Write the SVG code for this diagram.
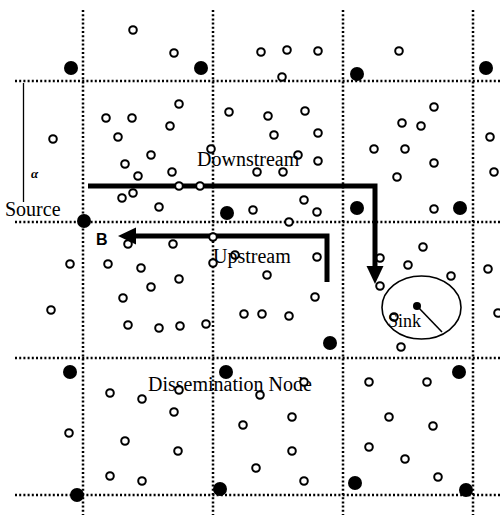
<svg xmlns="http://www.w3.org/2000/svg" width="500" height="515" viewBox="0 0 500 515">
<defs>
<style>
.grid{stroke:#000;stroke-width:2.5;stroke-dasharray:2 2.2;fill:none}
.n{fill:#fff;stroke:#000;stroke-width:2}
.f{fill:#000}
.arr{fill:none;stroke:#000;stroke-width:5}
.t{font-family:"Liberation Serif",serif;font-size:20px;fill:#000}
</style>
<marker id="head" markerUnits="userSpaceOnUse" markerWidth="18" markerHeight="18" refX="0" refY="8" orient="auto" viewBox="0 0 17 16">
<path d="M0,0 L17,8 L0,16 z" fill="#000"/>
</marker>
</defs>
<rect width="500" height="515" fill="#fff"/>
<g id="grid">
<line class="grid" x1="83" y1="10" x2="83" y2="515"/>
<line class="grid" x1="213" y1="10" x2="213" y2="515"/>
<line class="grid" x1="343" y1="10" x2="343" y2="515"/>
<line class="grid" x1="473" y1="10" x2="473" y2="515"/>
<line class="grid" x1="15" y1="81" x2="500" y2="81"/>
<line class="grid" x1="15" y1="222" x2="500" y2="222"/>
<line class="grid" x1="15" y1="358" x2="500" y2="358"/>
<line class="grid" x1="15" y1="495" x2="500" y2="495"/>
</g>
<g id="alpha-dim">
<line x1="23.5" y1="83" x2="23.5" y2="202" stroke="#000" stroke-width="1.3"/>
<text x="31" y="178" font-family="Liberation Serif,serif" font-size="13" font-style="italic" font-weight="bold" fill="#000">α</text>
</g>
<g id="sensors">
<circle class="n" cx="133" cy="30" r="3.8"/><circle class="n" cx="174" cy="53" r="3.8"/><circle class="n" cx="261" cy="52" r="3.8"/><circle class="n" cx="287" cy="50" r="3.8"/><circle class="n" cx="318" cy="51" r="3.8"/><circle class="n" cx="399" cy="51" r="3.8"/><circle class="n" cx="282" cy="77" r="3.8"/>
<circle class="n" cx="179" cy="104" r="3.8"/><circle class="n" cx="229" cy="112" r="3.8"/><circle class="n" cx="106" cy="118" r="3.8"/><circle class="n" cx="132" cy="118" r="3.8"/><circle class="n" cx="170" cy="126" r="3.8"/><circle class="n" cx="53" cy="139" r="3.8"/><circle class="n" cx="118" cy="137" r="3.8"/><circle class="n" cx="211" cy="149" r="3.8"/><circle class="n" cx="151" cy="155" r="3.8"/><circle class="n" cx="125" cy="164" r="3.8"/><circle class="n" cx="172" cy="172" r="3.8"/><circle class="n" cx="138" cy="176" r="3.8"/>
<circle class="n" cx="434" cy="107" r="3.8"/><circle class="n" cx="305" cy="111" r="3.8"/><circle class="n" cx="268" cy="116" r="3.8"/><circle class="n" cx="402" cy="123" r="3.8"/><circle class="n" cx="421" cy="126" r="3.8"/><circle class="n" cx="274" cy="135" r="3.8"/><circle class="n" cx="318" cy="133" r="3.8"/><circle class="n" cx="490" cy="137" r="3.8"/><circle class="n" cx="374" cy="149" r="3.8"/><circle class="n" cx="405" cy="149" r="3.8"/><circle class="n" cx="298" cy="155" r="3.8"/><circle class="n" cx="318" cy="161" r="3.8"/><circle class="n" cx="434" cy="163" r="3.8"/><circle class="n" cx="257" cy="172" r="3.8"/><circle class="n" cx="283" cy="172" r="3.8"/><circle class="n" cx="397" cy="177" r="3.8"/><circle class="n" cx="494" cy="172" r="3.8"/>
<circle class="n" cx="133" cy="193" r="3.8"/><circle class="n" cx="122" cy="198" r="3.8"/><circle class="n" cx="159" cy="207" r="3.8"/><circle class="n" cx="304" cy="200" r="3.8"/><circle class="n" cx="253" cy="210" r="3.8"/><circle class="n" cx="317" cy="212" r="3.8"/><circle class="n" cx="434" cy="209" r="3.8"/><circle class="n" cx="289" cy="222" r="3.8"/>
<circle class="n" cx="128" cy="244" r="3.8"/><circle class="n" cx="173" cy="244" r="3.8"/><circle class="n" cx="235" cy="255" r="3.8"/><circle class="n" cx="70" cy="264" r="3.8"/><circle class="n" cx="108" cy="264" r="3.8"/><circle class="n" cx="141" cy="268" r="3.8"/><circle class="n" cx="179" cy="279" r="3.8"/><circle class="n" cx="151" cy="287" r="3.8"/><circle class="n" cx="123" cy="298" r="3.8"/><circle class="n" cx="51" cy="310" r="3.8"/><circle class="n" cx="128" cy="325" r="3.8"/><circle class="n" cx="159" cy="328" r="3.8"/><circle class="n" cx="180" cy="326" r="3.8"/><circle class="n" cx="206" cy="324" r="3.8"/><circle class="n" cx="244" cy="314" r="3.8"/>
<circle class="n" cx="423" cy="247" r="3.8"/><circle class="n" cx="317" cy="257" r="3.8"/><circle class="n" cx="380" cy="258" r="3.8"/><circle class="n" cx="408" cy="265" r="3.8"/><circle class="n" cx="488" cy="269" r="3.8"/><circle class="n" cx="451" cy="276" r="3.8"/><circle class="n" cx="267" cy="275" r="3.8"/><circle class="n" cx="380" cy="286" r="3.8"/><circle class="n" cx="315" cy="297" r="3.8"/><circle class="n" cx="262" cy="314" r="3.8"/><circle class="n" cx="289" cy="316" r="3.8"/><circle class="n" cx="498" cy="313" r="3.8"/><circle class="n" cx="401" cy="347" r="3.8"/>
<circle class="n" cx="110" cy="393" r="3.8"/><circle class="n" cx="142" cy="399" r="3.8"/><circle class="n" cx="174" cy="412" r="3.8"/><circle class="n" cx="243" cy="425" r="3.8"/><circle class="n" cx="69" cy="433" r="3.8"/><circle class="n" cx="125" cy="441" r="3.8"/><circle class="n" cx="178" cy="451" r="3.8"/><circle class="n" cx="110" cy="476" r="3.8"/><circle class="n" cx="142" cy="481" r="3.8"/>
<circle class="n" cx="260" cy="395" r="3.8"/><circle class="n" cx="369" cy="382" r="3.8"/><circle class="n" cx="427" cy="382" r="3.8"/><circle class="n" cx="292" cy="417" r="3.8"/><circle class="n" cx="389" cy="417" r="3.8"/><circle class="n" cx="433" cy="426" r="3.8"/><circle class="n" cx="292" cy="451" r="3.8"/><circle class="n" cx="369" cy="447" r="3.8"/><circle class="n" cx="405" cy="459" r="3.8"/><circle class="n" cx="256" cy="468" r="3.8"/><circle class="n" cx="304" cy="481" r="3.8"/><circle class="n" cx="438" cy="477" r="3.8"/>
</g>
<g id="dissemination-nodes">
<circle class="f" cx="71" cy="68" r="7"/><circle class="f" cx="201" cy="68" r="7"/><circle class="f" cx="357" cy="74" r="7"/><circle class="f" cx="486" cy="68" r="7"/>
<circle class="f" cx="227" cy="213" r="7"/><circle class="f" cx="357" cy="208" r="7"/><circle class="f" cx="460" cy="208" r="7"/>
<circle class="f" cx="330" cy="343" r="7"/>
<circle class="f" cx="70" cy="372" r="7"/><circle class="f" cx="226" cy="372" r="7"/><circle class="f" cx="459" cy="372" r="7"/>
<circle class="f" cx="77" cy="495" r="7"/><circle class="f" cx="220" cy="489" r="7"/><circle class="f" cx="355" cy="483" r="7"/><circle class="f" cx="466" cy="490" r="7"/>
</g>
<g id="source">
<circle class="f" cx="84" cy="221" r="7"/>
<text class="t" x="5" y="216">Source</text>
</g>
<g id="sink">
<ellipse cx="421.5" cy="307.5" rx="39.5" ry="31.5" fill="none" stroke="#000" stroke-width="1.6"/>
<line x1="417" y1="306" x2="442" y2="332" stroke="#000" stroke-width="1.6"/>
<circle class="f" cx="417" cy="306" r="4"/>
<circle class="n" cx="394" cy="317" r="3.8"/>
<text class="t" x="388" y="327" style="font-size:18px">Sink</text>
</g>
<g id="connectors">
<path class="arr" d="M88,186 H375 V266" marker-end="url(#head)"/>
<path class="arr" d="M327,282 V236 H136" marker-end="url(#head)"/>
</g>
<g id="labels">
<circle class="n" cx="179" cy="186" r="3.8"/><circle class="n" cx="200" cy="186" r="3.8"/>
<circle class="n" cx="213" cy="237" r="3.8"/><circle class="n" cx="213" cy="263" r="3.8"/>
<text class="t" x="197" y="166">Downstream</text>
<text class="t" x="213" y="263">Upstream</text>
<text class="t" x="148" y="391">Dissemination Node</text>
<circle class="n" cx="179" cy="390" r="3.8"/><circle class="n" cx="304" cy="382" r="3.8"/>
<text x="96" y="245" font-family="Liberation Sans,sans-serif" font-size="16" font-weight="bold" fill="#000">B</text>
</g>
</svg>
